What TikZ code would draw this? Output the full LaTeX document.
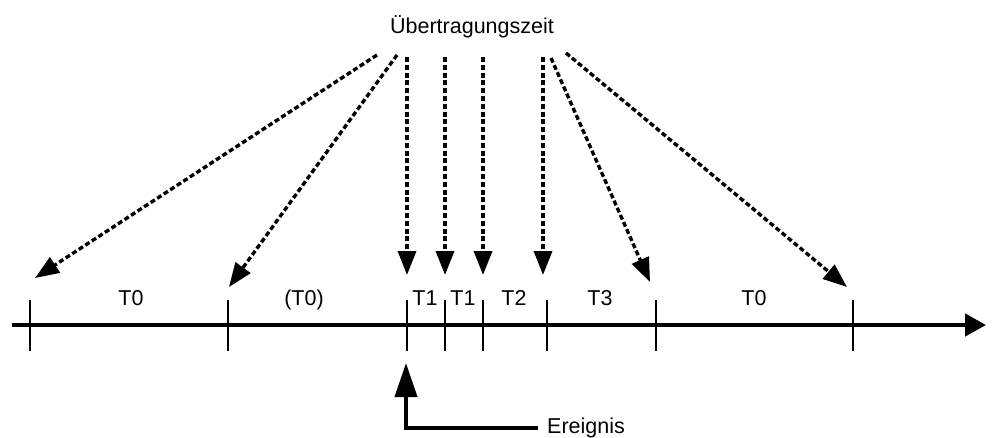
\documentclass[tikz,border=0pt]{standalone}
\usepackage{fontspec}
\setmainfont{Liberation Sans}
\usetikzlibrary{arrows.meta}
\begin{document}
\begin{tikzpicture}[x=1pt,y=-1pt,
  lbl/.style={font=\fontsize{21.5}{25}\selectfont, anchor=base, inner sep=0pt},
  ptr/.style={line width=3.4pt, dash pattern=on 5pt off 2.8pt, -{Triangle[length=24pt,width=18pt]}},
  tickmark/.style={line width=2.2pt},
  axisline/.style={line width=4.5pt, -{Triangle[length=21pt,width=22pt]}},
  evt/.style={line width=4pt, -{Triangle[length=34pt,width=22pt]}}]
\useasboundingbox (0,0) rectangle (992,438);

% title
\node[lbl] (title) at (472,34) {Übertragungszeit};

% axis
\coordinate (axL) at (12,325);
\coordinate (axR) at (986,325);
\draw[axisline] (axL) -- (axR);

% ticks
\foreach \n/\x in {0/30,1/228,2/407,3/445,4/483,5/547,6/656,7/853}{
  \coordinate (tu\n) at (\x,300);
  \coordinate (td\n) at (\x,351);
  \draw[tickmark] (tu\n) -- (td\n);
}

% interval labels
\node[lbl] (l0) at (131,305) {T0};
\node[lbl] (l1) at (304,305) {(T0)};
\node[lbl] (l2) at (425,305) {T1};
\node[lbl] (l3) at (463,305) {T1};
\node[lbl] (l4) at (514,305) {T2};
\node[lbl] (l5) at (600,305) {T3};
\node[lbl] (l6) at (754,305) {T0};

% transmission arrows
\coordinate (s1) at (377,55);  \coordinate (e1) at (35,278);
\coordinate (s2) at (397,55);  \coordinate (e2) at (229,287);
\coordinate (s3) at (407,57);  \coordinate (e3) at (407,275);
\coordinate (s4) at (445,57);  \coordinate (e4) at (445,275);
\coordinate (s5) at (483,57);  \coordinate (e5) at (483,275);
\coordinate (s6) at (543,57);  \coordinate (e6) at (543,275);
\coordinate (s7) at (551,58);  \coordinate (e7) at (650,282);
\coordinate (s8) at (566,53);  \coordinate (e8) at (847,287);
\foreach \i in {1,...,8}{ \draw[ptr] (s\i) -- (e\i); }

% event
\node[lbl, anchor=base west] (ev) at (547,433) {Ereignis};
\coordinate (evs) at (538,428);
\coordinate (evc) at (406,428);
\coordinate (evt) at (406,363);
\draw[evt] (evs) -- (evc) -- (evt);
\end{tikzpicture}
\end{document}
